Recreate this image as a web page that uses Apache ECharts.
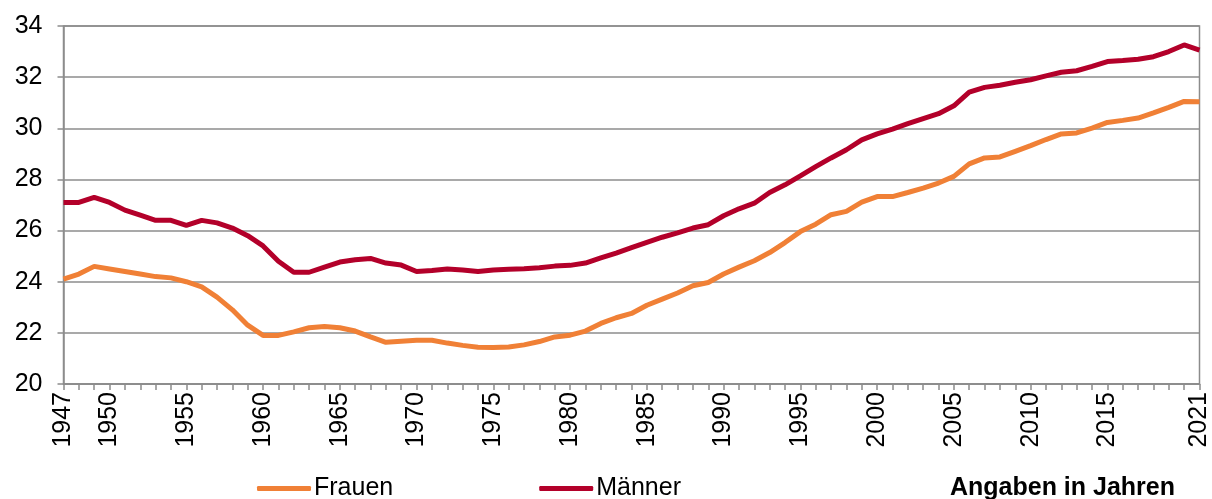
<!DOCTYPE html>
<html>
<head>
<meta charset="utf-8">
<script src="https://cdn.jsdelivr.net/npm/echarts@6/dist/echarts.min.js"></script>
<style>html,body{margin:0;padding:0;background:#fff;}#c{width:1212px;height:499px;}</style>
</head>
<body>
<div id="c"></div>
<script>
const years = [];
for (let y = 1947; y <= 2021; y++) years.push(String(y));
const frauen = [
  24.1, 24.3, 24.6, 24.5, 24.4, 24.3, 24.2, 24.15, 24.0, 23.8,
  23.4, 22.9, 22.3, 21.9, 21.9, 22.04, 22.2, 22.25, 22.2, 22.07,
  21.84, 21.63, 21.67, 21.71, 21.71, 21.6, 21.51, 21.44, 21.43, 21.45,
  21.53, 21.66, 21.84, 21.91, 22.07, 22.37, 22.59, 22.76, 23.08, 23.32,
  23.56, 23.84, 23.97, 24.3, 24.57, 24.82, 25.14, 25.53, 25.96, 26.25,
  26.62, 26.75, 27.11, 27.33, 27.33, 27.49, 27.66, 27.86, 28.12, 28.61,
  28.84, 28.88, 29.1, 29.32, 29.56, 29.78, 29.82, 30.01, 30.23, 30.31,
  30.4, 30.6, 30.82, 31.05, 31.04
];
const maenner = [
  27.1, 27.1, 27.3, 27.1, 26.8, 26.6, 26.4, 26.4, 26.2, 26.4,
  26.3, 26.1, 25.8, 25.4, 24.8, 24.37, 24.37, 24.57, 24.77, 24.86,
  24.91, 24.73, 24.65, 24.4, 24.44, 24.5, 24.46, 24.4, 24.46, 24.49,
  24.51, 24.55, 24.61, 24.64, 24.73, 24.93, 25.12, 25.33, 25.54, 25.74,
  25.91, 26.1, 26.23, 26.58, 26.85, 27.07, 27.49, 27.79, 28.14, 28.5,
  28.84, 29.16, 29.55, 29.78, 29.97, 30.18, 30.38, 30.57, 30.88, 31.41,
  31.6, 31.68, 31.8, 31.9, 32.05, 32.19, 32.25, 32.42, 32.61, 32.65,
  32.7, 32.8, 33.0, 33.26, 33.06
];
const shownYearLabels = ['1947','1950','1955','1960','1965','1970','1975','1980','1985','1990','1995','2000','2005','2010','2015','2021'];
const unitNote = 'Angaben in Jahren';

const FONT = '"Liberation Sans", Arial, sans-serif';
const GRAY = '#8c8c8c';
const chart = echarts.init(document.getElementById('c'), null, {renderer: 'canvas'});
chart.setOption({
  animation: false,
  backgroundColor: '#ffffff',
  textStyle: {fontFamily: FONT},
  grid: {left: 63.5, right: 12, top: 26, bottom: 115, show: true, borderColor: GRAY, borderWidth: 1.5},
  title: {
    text: unitNote, right: 32, top: 471,
    textStyle: {fontFamily: FONT, fontSize: 25, fontWeight: 'bold', color: '#000'}
  },
  legend: {
    left: 252, top: 471, itemWidth: 54, itemHeight: 5, itemGap: 146,
    icon: 'roundRect',
    textStyle: {fontFamily: FONT, fontSize: 25, color: '#000', padding: [0, 0, 0, -2]},
    data: ['Frauen', 'Männer']
  },
  xAxis: {
    type: 'category', data: years, boundaryGap: false,
    axisLine: {lineStyle: {color: GRAY, width: 1.5}},
    axisTick: {interval: 0, length: 6, lineStyle: {color: GRAY, width: 1.5}},
    axisLabel: {
      rotate: 90, fontSize: 25, color: '#000', fontFamily: FONT, margin: 8,
      interval: (i, v) => shownYearLabels.indexOf(v) >= 0
    },
    splitLine: {show: false}
  },
  yAxis: {
    type: 'value', min: 20, max: 34, interval: 2,
    axisLine: {show: true, lineStyle: {color: GRAY, width: 1.5}},
    axisTick: {show: true, length: 6, lineStyle: {color: GRAY, width: 1.5}},
    axisLabel: {fontSize: 25, color: '#000', fontFamily: FONT, margin: 21},
    splitLine: {show: true, lineStyle: {color: GRAY, width: 1.5}}
  },
  series: [
    {name: 'Frauen', type: 'line', data: frauen, showSymbol: false, symbol: 'none',
     lineStyle: {color: '#F08036', width: 5}, itemStyle: {color: '#F08036'}},
    {name: 'Männer', type: 'line', data: maenner, showSymbol: false, symbol: 'none',
     lineStyle: {color: '#B3002A', width: 5}, itemStyle: {color: '#B3002A'}}
  ]
});
</script>
</body>
</html>
